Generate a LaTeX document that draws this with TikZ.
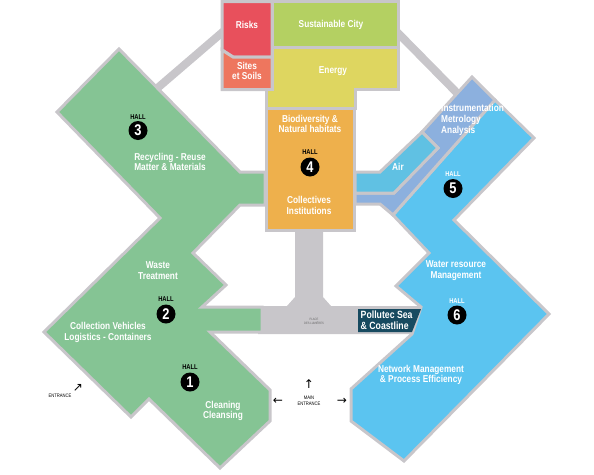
\documentclass[tikz,border=0pt]{standalone}
\usepackage{fontspec}
\setmainfont{Liberation Sans}[FakeStretch=0.83]
\newfontfamily\symfont{DejaVu Sans}
\definecolor{wallgray}{HTML}{C8C6CA}
\definecolor{hallgreen}{HTML}{85C494}
\definecolor{hallcyan}{HTML}{5BC4F0}
\definecolor{hallperi}{HTML}{8CB0DE}
\definecolor{hallair}{HTML}{60C1E3}
\definecolor{riskred}{HTML}{E8505C}
\definecolor{sitesal}{HTML}{EE765E}
\definecolor{citygreen}{HTML}{B4D062}
\definecolor{energyyel}{HTML}{DED660}
\definecolor{bioorange}{HTML}{EEB04C}
\definecolor{seateal}{HTML}{174A60}
\tikzset{
  zone/.style={draw=wallgray, line width=3pt, line join=miter},
  lbl/.style={text=white, font=\bfseries\fontsize{10}{10.8}\selectfont, align=center, inner sep=0pt},
  lbll/.style={lbl, align=left, anchor=west},
  hallk/.style={text=black, font=\bfseries\fontsize{7}{7}\selectfont, inner sep=0pt},
  hallw/.style={hallk, text=white},
  hallnum/.style={circle, fill=black, text=white, minimum size=19pt, inner sep=0pt, font=\bfseries\fontsize{15.5}{15.5}\selectfont},
  tiny/.style={text=black, font=\fontsize{5}{5.5}\selectfont, align=center, inner sep=0pt},
  arrowsym/.style={text=black, font=\symfont\fontsize{12}{12}\selectfont, inner sep=0pt}
}
\begin{document}
\begin{tikzpicture}[x=1pt,y=-1pt]
\useasboundingbox (0,0) rectangle (594,474);
% corridors
\draw[wallgray, line width=8pt] (154,91) -- (225,30);
\draw[wallgray, line width=8pt] (396,31) -- (461,97);
% place des lumieres
\fill[wallgray] (258,306) -- (287,306) -- (295,297) -- (295,229) -- (323,229) -- (323,297) -- (331,306) -- (421,306) -- (412,334) -- (258,334) -- cycle;
% green halls 1-3
\filldraw[zone, fill=hallgreen] (119,49) -- (240,172) -- (265,172) -- (265,205) -- (240,205) -- (193,253) -- (226,285) -- (202,307) -- (262,307) -- (262,332) -- (210,332) -- (270,390) -- (270,421) -- (220,468) -- (149,399) -- (131,417) -- (44,332) -- (160,218) -- (57,112) -- cycle;
% halls 5-6
\filldraw[zone, fill=hallcyan] (495,100) -- (534,138) -- (454,220) -- (549,314) -- (404,461) -- (351,421) -- (351,389) -- (412,334) -- (421,307) -- (396,286) -- (429,253) -- (393,215) -- cycle;
\filldraw[zone, fill=hallperi] (472,77) -- (495,100) -- (393,215) -- (380,204) -- (355,204) -- (355,193) -- (394,193) -- (438,148) -- (422,132) -- cycle;
\filldraw[zone, fill=hallair] (355,172) -- (380,172) -- (422,132) -- (438,148) -- (394,193) -- (355,193) -- cycle;
% top block
\filldraw[zone, fill=riskred] (222,1.5) -- (272,1.5) -- (272,57) -- (233,57) -- (222,50) -- cycle;
\filldraw[zone, fill=sitesal] (222,50) -- (233,57) -- (272,57) -- (272,89.5) -- (222,89.5) -- cycle;
\filldraw[zone, fill=citygreen] (272,1.5) -- (398,1.5) -- (398,47) -- (272,47) -- cycle;
\filldraw[zone, fill=energyyel] (272,47) -- (398,47) -- (398,89.5) -- (355,89.5) -- (355,108) -- (266,108) -- (266,89.5) -- (272,89.5) -- cycle;
\filldraw[zone, fill=bioorange] (266,108) rectangle (354,230);
% pollutec box
\fill[seateal] (358,309) -- (421,309) -- (412,332) -- (358,332) -- cycle;

% labels
\node[lbl] (risks) at (247,25) {Risks};
\node[lbl] (sites) at (247,71) {Sites\\et Soils};
\node[lbl] (city) at (331,25) {Sustainable City};
\node[lbl] (energy) at (333,71) {Energy};
\node[lbl] (bio) at (310,124) {Biodiversity \&\\Natural habitats};
\node[hallk] (h4) at (310,152) {HALL};
\node[hallnum] (n4) at (310,167) {4};
\node[lbl] (coll) at (309,205.5) {Collectives\\Institutions};

\node[hallk] (h3) at (138,117) {HALL};
\node[hallnum] (n3) at (138,130.5) {3};
\node[lbl] (recy) at (170,162) {Recycling - Reuse\\Matter \& Materials};

\node[lbl] (waste) at (158,271) {Waste\\Treatment};
\node[hallk] (h2) at (166,299) {HALL};
\node[hallnum] (n2) at (166,314) {2};
\node[lbl] (collv) at (108,332.5) {Collection Vehicles\\Logistics - Containers};

\node[hallk] (h1) at (190,367) {HALL};
\node[hallnum] (n1) at (190,382) {1};
\node[lbl] (clean) at (223,411) {Cleaning\\Cleansing};

\node[lbll] (instr) at (441,120) {Instrumentation\\Metrology\\Analysis};
\node[lbl] (air) at (398,167) {Air};
\node[hallw] (h5) at (453,174) {HALL};
\node[hallnum] (n5) at (453,188.5) {5};

\node[lbl] (water) at (456,271) {Water resource\\Management};
\node[hallw] (h6) at (457,301) {HALL};
\node[hallnum] (n6) at (457,315) {6};
\node[lbl] (network) at (421,375) {Network Management\\\& Process Efficiency};

\node[lbll, font=\bfseries\fontsize{10.5}{11}\selectfont] (sea) at (360.5,320.5) {Pollutec Sea\\\& Coastline};
\node[tiny, font=\fontsize{3.2}{4}\selectfont, text=black!60] (place) at (314,321) {PLACE\\DES LUMIÈRES};

% entrances
\node[tiny] (ent) at (60,396) {ENTRANCE};
\node[arrowsym] (entarr) at (78,388) {↗};
\node[tiny] (main) at (309,401) {MAIN\\ENTRANCE};
\node[arrowsym] (mainup) at (309,384) {↑};
\node[arrowsym] (mainleft) at (278,401) {←};
\node[arrowsym] (mainright) at (342,401) {→};
\end{tikzpicture}
\end{document}
